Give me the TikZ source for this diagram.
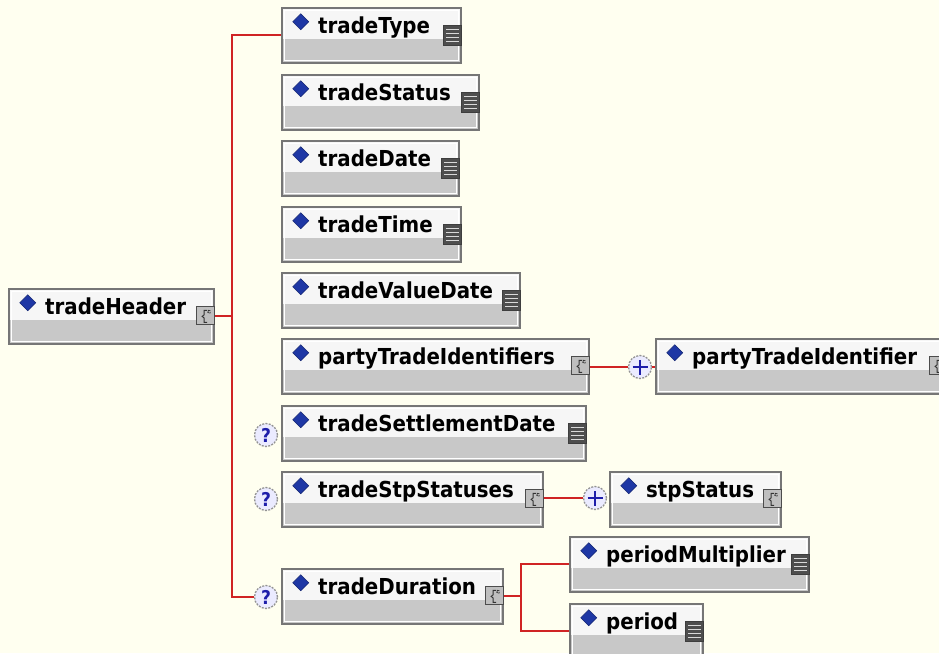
\documentclass[tikz,border=0pt]{standalone}
\usepackage{fontspec}
\newfontfamily\elemfont{DejaVu Sans}[FakeStretch=0.9]

\definecolor{bgcream}{RGB}{255,255,240}
\definecolor{linkred}{RGB}{208,36,36}
\definecolor{boxedge}{RGB}{118,118,118}
\definecolor{boxgray}{RGB}{200,200,200}
\definecolor{boxtop}{RGB}{246,246,246}
\definecolor{diamondblue}{RGB}{30,55,165}
\definecolor{icondark}{RGB}{78,78,78}
\definecolor{markblue}{RGB}{30,30,170}

\tikzset{
    elem/.style={draw=boxedge, line width=1.5pt, fill=boxgray, inner sep=0pt,
        minimum height=55pt, anchor=north west,
        path picture={
            \fill[boxtop] (path picture bounding box.north west) rectangle ([yshift=-31pt]path picture bounding box.north east);
            \draw[white, line width=0.8pt] ([shift={(2.5pt,-2.5pt)}]path picture bounding box.north west) rectangle ([shift={(-2.5pt,2.5pt)}]path picture bounding box.south east);
            \fill[diamondblue, draw=diamondblue!70!black, line width=0.6pt] ([shift={(19pt,-6pt)}]path picture bounding box.north west) -- ++(8pt,-8pt) -- ++(-8pt,-8pt) -- ++(-8pt,8pt) -- cycle;
        }},
    elemlabel/.style={inner sep=0pt, anchor=base west, font=\elemfont\bfseries\fontsize{22}{26}\selectfont},
    simpleicon/.style={fill=icondark, draw=icondark!80!black, line width=0.6pt,
        minimum width=18pt, minimum height=20pt, inner sep=0pt, anchor=north east,
        path picture={
            \foreach \k in {4,8,12,16}
                \draw[white!70!gray, line width=1.4pt] ([shift={(3pt,-\k pt)}]path picture bounding box.north west) -- ([shift={(-2pt,-\k pt)}]path picture bounding box.north east);
        }},
    complexicon/.style={fill=gray!50, draw=black!70, line width=0.8pt,
        minimum size=18pt, inner sep=0pt, anchor=north east,
        path picture={
            \draw[black!80, line width=0.9pt] ([shift={(11pt,-4pt)}]path picture bounding box.north west) -- ++(-3pt,0pt) -- ++(0pt,-4.5pt) -- ++(-2pt,-1.5pt) -- ++(2pt,-1.5pt) -- ++(0pt,-4.5pt) -- ++(3pt,0pt);
            \draw[black!80, line width=0.7pt] ([shift={(14.5pt,-4.5pt)}]path picture bounding box.north west) arc[start angle=30, end angle=330, radius=1.6pt];
        }},
    markcircle/.style={circle, draw=gray!85, dash pattern=on 2pt off 1.3pt, line width=1.3pt,
        fill=white!92!blue, minimum size=23pt, inner sep=0pt},
    optmark/.style={markcircle, text=markblue, font=\elemfont\bfseries\fontsize{19}{19}\selectfont},
    manymark/.style={markcircle,
        path picture={
            \draw[solid, markblue, line width=1.8pt] ([xshift=-7.5pt]path picture bounding box.center) -- ([xshift=7.5pt]path picture bounding box.center)
                ([yshift=-7.5pt]path picture bounding box.center) -- ([yshift=7.5pt]path picture bounding box.center);
        }},
    link/.style={draw=linkred, line width=2pt}
}

% element box: name/label, left, top, width, icon style
\newcommand{\xsdelem}[5]{%
    \node[elem, minimum width=#4pt] (#1) at (#2,#3) {};
    \node[#5] (#1 icon) at ([yshift=-18pt]#1.north east) {};
    \node[elemlabel] (#1 label) at ([shift={(37pt,-26pt)}]#1.north west) {#1};
}

\begin{document}
\begin{tikzpicture}[x=1pt, y=-1pt]
    \useasboundingbox (0,0) rectangle (939,653);
    \fill[bgcream] (0,0) rectangle (939,653);
    \clip (0,0) rectangle (939,653);

    % Root
    \xsdelem{tradeHeader}{8}{288}{205}{complexicon}

    % Sequence children
    \xsdelem{tradeType}{281}{7}{179}{simpleicon}
    \xsdelem{tradeStatus}{281}{74}{197}{simpleicon}
    \xsdelem{tradeDate}{281}{140}{177}{simpleicon}
    \xsdelem{tradeTime}{281}{206}{179}{simpleicon}
    \xsdelem{tradeValueDate}{281}{272}{238}{simpleicon}
    \xsdelem{partyTradeIdentifiers}{281}{338}{307}{complexicon}
    \xsdelem{tradeSettlementDate}{281}{405}{304}{simpleicon}
    \xsdelem{tradeStpStatuses}{281}{471}{261}{complexicon}
    \xsdelem{tradeDuration}{281}{568}{221}{complexicon}

    % Grandchildren
    \xsdelem{partyTradeIdentifier}{655}{338}{291}{complexicon}
    \xsdelem{stpStatus}{609}{471}{171}{complexicon}
    \xsdelem{periodMultiplier}{569}{536}{239}{simpleicon}
    \xsdelem{period}{569}{603}{133}{simpleicon}

    % Optional and repeating marks
    \node[optmark] (settleOpt) at (266,435) {?};
    \node[optmark] (stpOpt) at (266,499) {?};
    \node[optmark] (durOpt) at (266,597) {?};
    \node[manymark] (partyMany) at (640,367) {};
    \node[manymark] (stpMany) at (595,498) {};

    % Trunk from tradeHeader
    \coordinate (trunk) at (232,0);
    \draw[link] (tradeHeader.east) -- (tradeHeader.east -| trunk);
    \draw[link] (tradeType.west) -- (tradeType.west -| trunk) -- (durOpt.west -| trunk) -- (durOpt.west);

    % tradeDuration fork
    \coordinate (durFork) at (521,0);
    \draw[link] (tradeDuration.east) -- (tradeDuration.east -| durFork);
    \draw[link] (periodMultiplier.west) -- (periodMultiplier.west -| durFork) -- (period.west -| durFork) -- (period.west);

    % Repeating links
    \draw[link] (partyTradeIdentifiers.east |- partyMany) -- (partyMany.west);
    \draw[link] (partyMany.east) -- (partyTradeIdentifier.west |- partyMany);
    \draw[link] (tradeStpStatuses.east |- stpMany) -- (stpMany.west);
\end{tikzpicture}
\end{document}
